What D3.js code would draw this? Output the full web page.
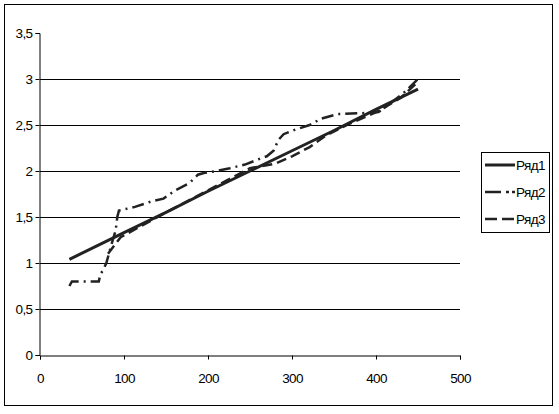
<!DOCTYPE html>
<html lang="ru">
<head>
<meta charset="utf-8">
<title>Ряд1 Ряд2 Ряд3</title>
<script src="https://d3js.org/d3.v7.min.js"></script>
<style>
  body { margin: 0; background: #fff; }
  text { font-family: "Liberation Sans Narrow", "Arial Narrow", "Liberation Sans", sans-serif; font-size: 13.5px; letter-spacing: -0.6px; fill: #000; }
</style>
</head>
<body>
<div id="chart"></div>
<script>
// series names and tick values
var seriesNames = ["Ряд1", "Ряд2", "Ряд3"];
var xTicks = [0, 100, 200, 300, 400, 500];
var yTicks = [0, 0.5, 1, 1.5, 2, 2.5, 3, 3.5];

// Ряд1 - solid
var ryad1 = [[35, 1.04], [100, 1.33], [150, 1.55], [200, 1.78], [250, 2.0],
             [300, 2.22], [350, 2.44], [400, 2.67], [450, 2.89]];
// Ряд2 - dash dot
var ryad2 = [[35, 0.75], [38, 0.8], [70, 0.8], [72, 0.88], [75, 0.92], [79, 1.0],
             [85, 1.2], [90, 1.35], [92, 1.5], [94, 1.57], [113, 1.61], [133, 1.67],
             [147, 1.7], [161, 1.79], [178, 1.87], [188, 1.96], [196, 1.98], [210, 2.0],
             [226, 2.03], [244, 2.07], [258, 2.12], [270, 2.16], [278, 2.22], [284, 2.34],
             [290, 2.4], [304, 2.45], [321, 2.5], [335, 2.57], [355, 2.62], [387, 2.63],
             [403, 2.64], [432, 2.84], [450, 3.0]];
// Ряд3 - dashed
var ryad3 = [[81, 1.1], [96, 1.28], [120, 1.4], [150, 1.55], [200, 1.79], [250, 2.03],
             [280, 2.08], [300, 2.16], [321, 2.26], [341, 2.39], [370, 2.52], [405, 2.66],
             [430, 2.8], [450, 2.97]];

var w = 559, h = 414;
var svg = d3.select("#chart").append("svg")
    .attr("width", w)
    .attr("height", h);

// outer frame
svg.append("rect")
    .attr("x", 4.5).attr("y", 4.5)
    .attr("width", 548).attr("height", 401)
    .attr("fill", "#fff")
    .attr("stroke", "#000");

var x = d3.scaleLinear().domain([0, 500]).range([40, 460]);
var y = d3.scaleLinear().domain([0, 3.5]).range([355, 33]);

// gridlines
svg.append("g")
    .selectAll("line")
    .data(yTicks.filter(function(d) { return d > 0 && d < 3.5; }))
    .enter().append("line")
    .attr("x1", x(0)).attr("x2", x(500))
    .attr("y1", function(d) { return Math.round(y(d)) + 0.5; })
    .attr("y2", function(d) { return Math.round(y(d)) + 0.5; })
    .attr("stroke", "#000");

var fmt = function(d) { return String(d).replace(".", ","); };

var yAxis = svg.append("g")
    .attr("transform", "translate(" + (x(0) - 0.5) + ",0)")
    .call(d3.axisLeft(y).tickValues(yTicks).tickFormat(fmt).tickSize(4).tickPadding(3));
var xAxis = svg.append("g")
    .attr("transform", "translate(0," + (y(0) + 0.5) + ")")
    .call(d3.axisBottom(x).tickValues(xTicks).tickFormat(d3.format("d")).tickSize(4).tickPadding(14));

[yAxis, xAxis].forEach(function(a) {
  a.select(".domain").attr("stroke", "#000");
  a.selectAll(".tick line").attr("stroke", "#000");
  a.selectAll("text").attr("font-family", null).attr("font-size", null);
});

var line = d3.line()
    .x(function(d) { return x(d[0]); })
    .y(function(d) { return y(d[1]); });

var styles = [
  { data: ryad1, dash: null, width: 3 },
  { data: ryad2, dash: "12,5,2,5", width: 2.5 },
  { data: ryad3, dash: "10,5", width: 2.5 }
];

svg.append("g").selectAll("path")
    .data(styles)
    .enter().append("path")
    .attr("d", function(d) { return line(d.data); })
    .attr("fill", "none")
    .attr("stroke", "#222")
    .attr("stroke-width", function(d) { return d.width; })
    .attr("stroke-dasharray", function(d) { return d.dash; });

// legend
var legend = svg.append("g");
legend.append("rect")
    .attr("x", 481.5).attr("y", 152.5)
    .attr("width", 68).attr("height", 80)
    .attr("fill", "#fff").attr("stroke", "#000");

var items = legend.selectAll("g.item")
    .data(seriesNames)
    .enter().append("g")
    .attr("class", "item")
    .attr("transform", function(d, i) { return "translate(0," + [165, 192, 219][i] + ")"; });

items.append("line")
    .attr("x1", 485).attr("x2", 515)
    .attr("y1", 0).attr("y2", 0)
    .attr("stroke", "#222")
    .attr("stroke-width", function(d, i) { return styles[i].width; })
    .attr("stroke-dasharray", function(d, i) { return ["", "16,5,3,3,3", "12,5"][i]; });

items.append("text")
    .attr("x", 516).attr("y", 0)
    .attr("dy", "0.35em")
    .text(function(d) { return d; });
</script>
</body>
</html>
